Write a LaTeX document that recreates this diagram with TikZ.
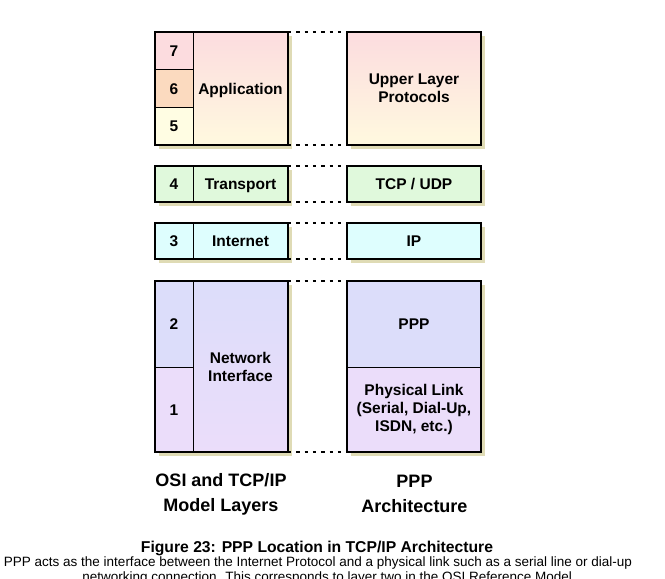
\documentclass[tikz,border=0pt]{standalone}
\usepackage{fontspec}
\setmainfont{Liberation Sans}
\usepackage{xcolor}
\usepackage{tikz}
\usetikzlibrary{positioning,shadows}
\definecolor{rosetop}{HTML}{FCDCDF}
\definecolor{creambot}{HTML}{FFF9DF}
\definecolor{peach}{HTML}{FBDABF}
\definecolor{paleyel}{HTML}{FFFDE3}
\definecolor{mint}{HTML}{E0F9DC}
\definecolor{aqua}{HTML}{DEFEFE}
\definecolor{lav}{HTML}{DCDDFA}
\definecolor{lilac}{HTML}{EBDDFA}
\definecolor{shade}{HTML}{DFDBB5}
\tikzset{
  blk/.style={draw=black, line width=1.8pt, inner sep=0pt, outer sep=0pt, anchor=north west,
    drop shadow={shadow xshift=4pt, shadow yshift=-4pt, fill=shade, opacity=1}},
  rim/.style={draw=black, line width=1.8pt},
  lab/.style={font=\fontsize{15.5}{18}\selectfont\bfseries, align=center, inner sep=0pt, outer sep=0pt},
  one/.style={text height=11.2pt, text depth=0.2pt},
  cell/.style={lab, draw=black, line width=0.9pt, minimum width=38pt},
  link/.style={draw=black, line width=2pt, dash pattern=on 3.3pt off 5pt},
  big/.style={font=\fontsize{18}{25}\selectfont\bfseries, align=center, inner sep=0pt},
  ttl/.style={font=\fontsize{15.7}{18}\selectfont\bfseries, inner sep=0pt, anchor=base},
  txt/.style={font=\fontsize{13.5}{15}\selectfont, inner sep=0pt, anchor=base},
}
\begin{document}
\begin{tikzpicture}[x=1pt,y=-1pt]
  \useasboundingbox (0,0) rectangle (665,579);

  % application layers
  \node[blk, top color=rosetop, bottom color=creambot, minimum width=133pt, minimum height=113pt] (appL) at (155,32) {};
  \node[cell, one, fill=rosetop, minimum height=37.7pt, anchor=north west] (n7) at (appL.north west) {7};
  \node[cell, one, fill=peach, minimum height=37.7pt, below=0pt of n7] (n6) {6};
  \node[cell, one, fill=paleyel, minimum height=37.6pt, below=0pt of n6] (n5) {5};
  \node[lab, one, minimum width=95pt, right=0pt of n6] (appT) {Application};
  \node[blk, lab, top color=rosetop, bottom color=creambot, minimum width=134pt, minimum height=113pt] (appR) at (347,32) {Upper Layer\\Protocols};

  % transport
  \node[blk, fill=mint, minimum width=133pt, minimum height=36pt] (trL) at (155,166) {};
  \node[cell, one, fill=mint, minimum height=36pt, anchor=north west] (n4) at (trL.north west) {4};
  \node[lab, one, minimum width=95pt, right=0pt of n4] (trT) {Transport};
  \node[blk, lab, one, fill=mint, minimum width=134pt, minimum height=36pt] (trR) at (347,166) {TCP / UDP};

  % internet
  \node[blk, fill=aqua, minimum width=133pt, minimum height=36pt] (ipL) at (155,223) {};
  \node[cell, one, fill=aqua, minimum height=36pt, anchor=north west] (n3) at (ipL.north west) {3};
  \node[lab, one, minimum width=95pt, right=0pt of n3] (ipT) {Internet};
  \node[blk, lab, one, fill=aqua, minimum width=134pt, minimum height=36pt] (ipR) at (347,223) {IP};

  % network interface
  \node[blk, top color=lav, bottom color=lilac, minimum width=133pt, minimum height=171pt] (niL) at (155,281) {};
  \node[cell, one, fill=lav, minimum height=86pt, anchor=north west] (n2) at (niL.north west) {2};
  \node[cell, one, fill=lilac, minimum height=85pt, below=0pt of n2] (n1) {1};
  \node[lab, minimum width=95pt, anchor=west] (niT) at (n2.south east) {Network\\Interface};
  \node[blk, fill=lav, minimum width=134pt, minimum height=171pt] (niR) at (347,281) {};
  \node[cell, one, fill=lav, minimum width=134pt, minimum height=86pt, anchor=north west] (ppp) at (niR.north west) {PPP};
  \node[cell, fill=lilac, minimum width=134pt, minimum height=85pt, below=0pt of ppp] (phy) {Physical Link\\(Serial, Dial-Up,\\ISDN, etc.)};

  \draw[rim] (appL.north west) rectangle (appL.south east);
  \draw[rim] (trL.north west) rectangle (trL.south east);
  \draw[rim] (ipL.north west) rectangle (ipL.south east);
  \draw[rim] (niL.north west) rectangle (niL.south east);
  \draw[rim] (niR.north west) rectangle (niR.south east);

  % dotted ties
  \draw[link] (appL.north east) -- (appR.north west);
  \draw[link] (appL.south east) -- (appR.south west);
  \draw[link] (trL.north east) -- (trR.north west);
  \draw[link] (trL.south east) -- (trR.south west);
  \draw[link] (ipL.north east) -- (ipR.north west);
  \draw[link] (ipL.south east) -- (ipR.south west);
  \draw[link] (niL.north east) -- (niR.north west);
  \draw[link] (niL.south east) -- (niR.south west);

  \node[big] (osi) at (221,494) {OSI and TCP/IP\\Model Layers};
  \node[big] (arch) at (414.5,494) {PPP\\Architecture};

  \node[ttl] (fig) at (317,552) {Figure 23: PPP Location in TCP/IP Architecture};
  \node[txt] (cap1) at (318,566) {PPP acts as the interface between the Internet Protocol and a physical link such as a serial line or dial-up};
  \node[txt] (cap2) at (329,581) {networking connection. This corresponds to layer two in the OSI Reference Model.};
\end{tikzpicture}
\end{document}
